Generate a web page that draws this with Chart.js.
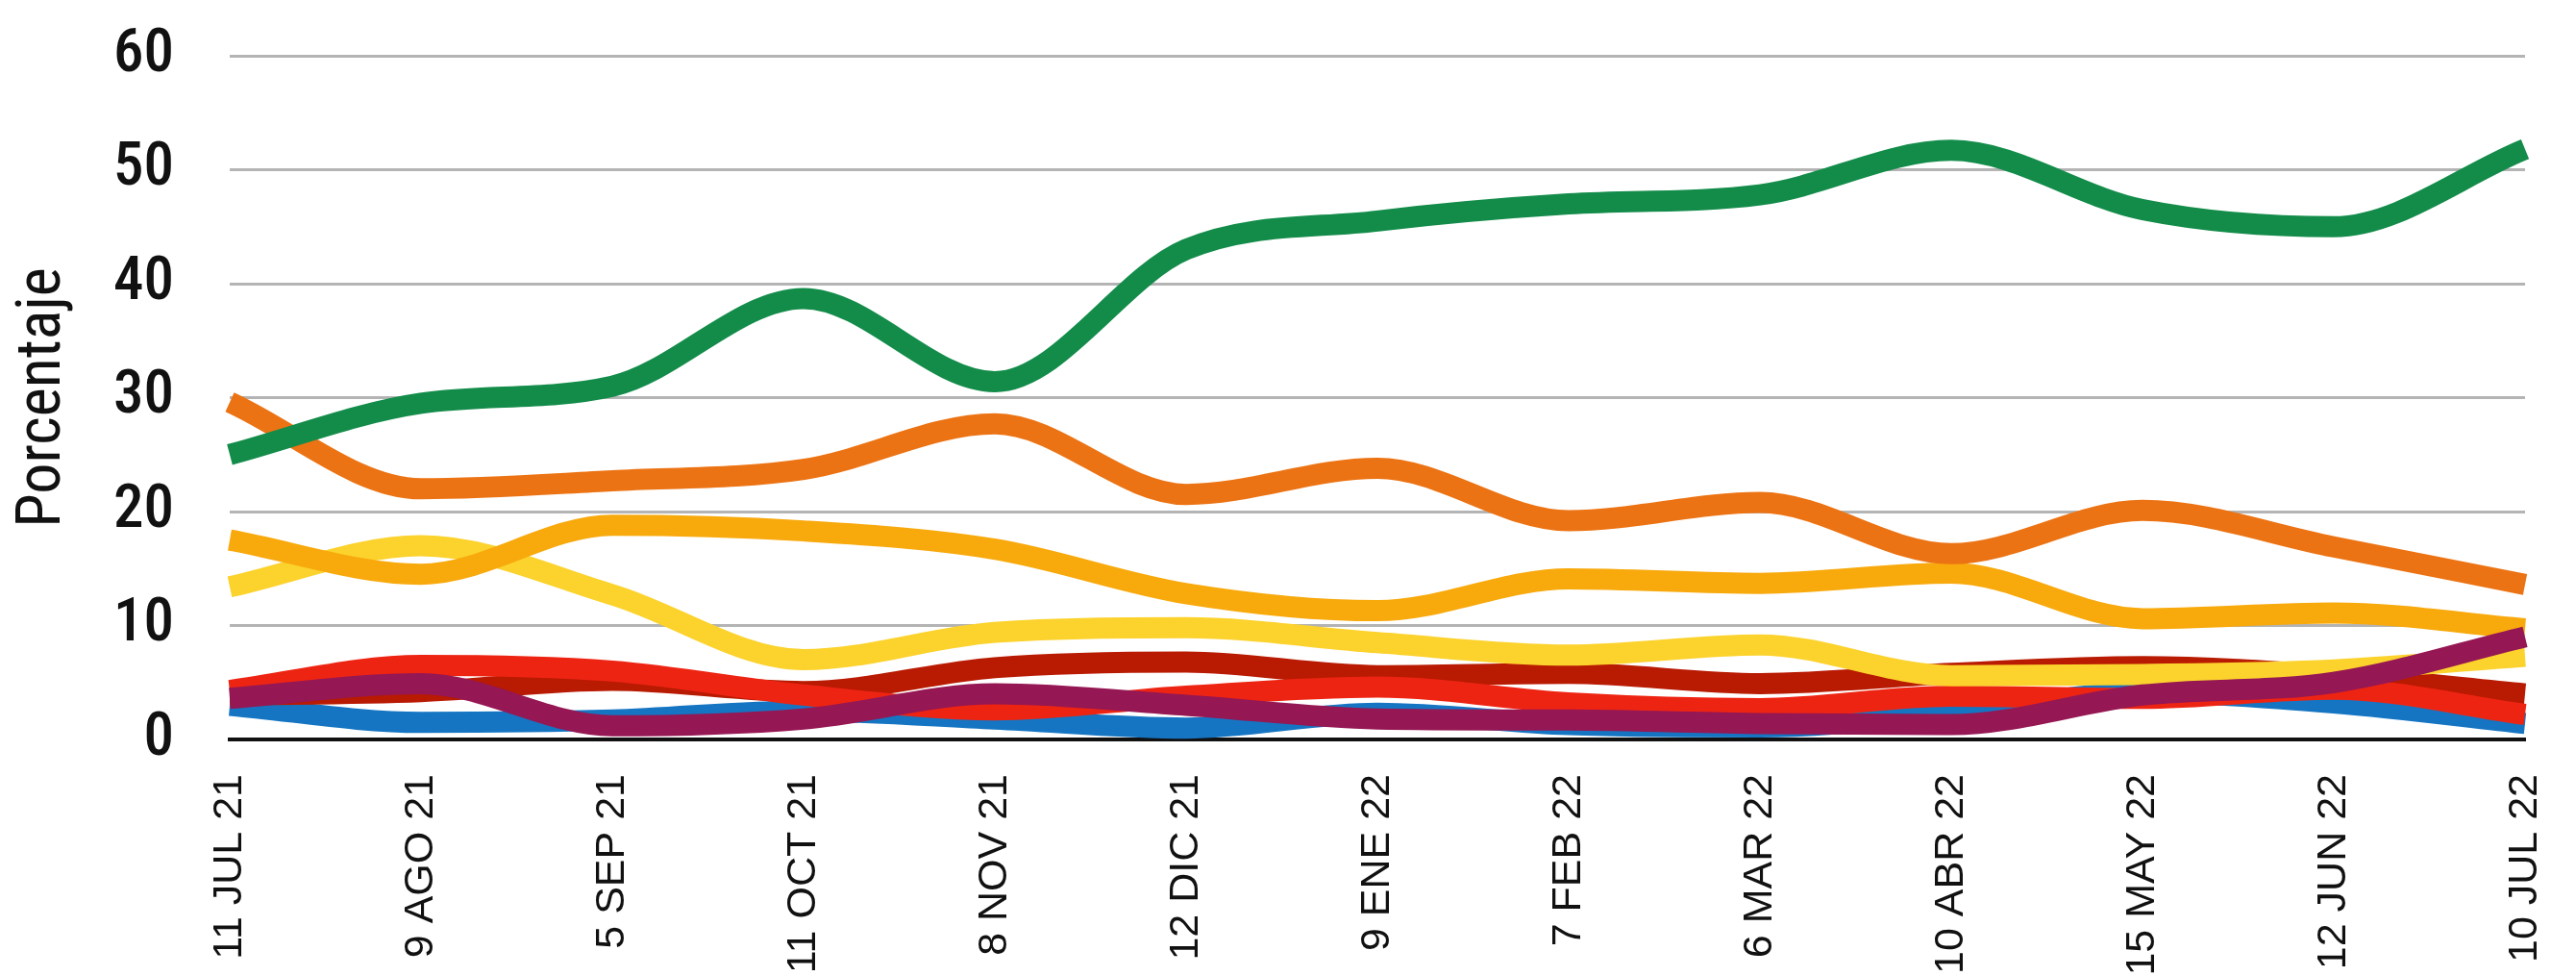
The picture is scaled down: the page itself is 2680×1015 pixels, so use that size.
<!DOCTYPE html>
<html>
<head>
<meta charset="utf-8">
<script src="https://cdn.jsdelivr.net/npm/chart.js@4.4.1/dist/chart.umd.min.js"></script>
<style>
  html, body { margin: 0; padding: 0; background: #ffffff; }
  #grafico { display: block; }
</style>
</head>
<body>
<canvas id="grafico" width="2680" height="1015"></canvas>
<script>
// fechas de las encuestas
var fechas = ['11 JUL 21', '9 AGO 21', '5 SEP 21', '11 OCT 21', '8 NOV 21', '12 DIC 21', '9 ENE 22',
  '7 FEB 22', '6 MAR 22', '10 ABR 22', '15 MAY 22', '12 JUN 22', '10 JUL 22'];

// porcentajes
var verde      = [25, 29.5, 31, 38.7, 31.4, 43, 45.5, 47, 47.8, 51.7, 46.5, 45, 51.8];
var naranja    = [29.6, 22, 22.7, 23.7, 27.7, 21.5, 23.8, 19.2, 20.8, 16.3, 20.1, 16.9, 13.6];
var ambar      = [17.5, 14.5, 18.8, 18.3, 16.7, 12.8, 11.3, 14.1, 13.7, 14.6, 10.6, 11.1, 9.7];
var amarillo   = [13.4, 17, 12.7, 7, 9.4, 9.8, 8.5, 7.4, 8.3, 5.6, 5.7, 6.1, 7.3];
var rojoOscuro = [3.9, 4.2, 5.2, 4.2, 6.3, 6.8, 5.6, 5.8, 4.9, 5.8, 6.4, 5.6, 4.0];
var rojo       = [4.3, 6.5, 6, 3.9, 2.6, 3.8, 4.6, 3.2, 2.7, 3.8, 3.6, 4.4, 2.2];
var morado     = [3.6, 4.9, 1.2, 1.8, 4.0, 3.0, 1.8, 1.7, 1.4, 1.3, 3.9, 5.0, 9.0];
var azul       = [3.0, 1.5, 1.7, 2.5, 1.8, 1.0, 2.3, 1.3, 1.1, 2.3, 4.1, 3.2, 1.4];

var ticksY = [0, 10, 20, 30, 40, 50, 60];

var fuenteCond = "'Roboto Condensed', 'Noto Sans', Roboto, sans-serif";

function serie(data, color) {
  return {
    data: data,
    borderColor: color,
    backgroundColor: color,
    borderWidth: 22,
    borderCapStyle: 'butt',
    borderJoinStyle: 'round',
    pointRadius: 0,
    pointHoverRadius: 0,
    cubicInterpolationMode: 'monotone',
    fill: false
  };
}

var ctx = document.getElementById('grafico').getContext('2d');

// el primero se dibuja encima
var datasets = [
  serie(morado, '#951753'),
  serie(verde, '#138c4a'),
  serie(naranja, '#ec7313'),
  serie(ambar, '#f8a90c'),
  serie(amarillo, '#fcd22c'),
  serie(rojo, '#ee2413'),
  serie(rojoOscuro, '#b81a02'),
  serie(azul, '#1575c2')
];

var config = {
  type: 'line',
  data: { labels: fechas, datasets: datasets },
  options: {
    responsive: false,
    animation: false,
    layout: { autoPadding: false, padding: { top: 58, right: 53, left: 0, bottom: 0 } },
    plugins: {
      legend: { display: false },
      tooltip: { enabled: false }
    },
    scales: {
      x: {
        offset: false,
        // la separacion de las etiquetas va en tickLength (marcas invisibles)
        grid: { display: true, color: 'rgba(0,0,0,0)', drawTicks: true, tickLength: 36, tickColor: 'rgba(0,0,0,0)' },
        border: { display: true, color: '#111111', width: 4 },
        ticks: {
          minRotation: 90,
          maxRotation: 90,
          autoSkip: false,
          padding: 0,
          color: '#111111',
          font: { family: "'Liberation Sans', Arial, sans-serif", size: 43 }
        },
        afterFit: function (scale) { scale.height = 246; }
      },
      y: {
        min: 0,
        max: 60,
        afterBuildTicks: function (scale) {
          scale.ticks = ticksY.map(function (v) { return { value: v }; });
        },
        grid: {
          color: function (c) { return c.tick && c.tick.value === 0 ? 'rgba(0,0,0,0)' : '#b4b4b4'; },
          lineWidth: 3,
          drawTicks: true,
          tickLength: 58,
          tickColor: 'rgba(0,0,0,0)'
        },
        border: { display: false },
        ticks: {
          padding: 0,
          color: '#111111',
          font: { family: fuenteCond, style: 'condensed', weight: '500', size: 63 }
        },
        title: {
          display: true,
          text: 'Porcentaje',
          color: '#111111',
          padding: { top: 8, bottom: 0 },
          font: { family: fuenteCond, style: 'condensed', size: 64 }
        },
        afterFit: function (scale) { scale.width = 239; }
      }
    }
  }
};

new Chart(ctx, config);
</script>
</body>
</html>
